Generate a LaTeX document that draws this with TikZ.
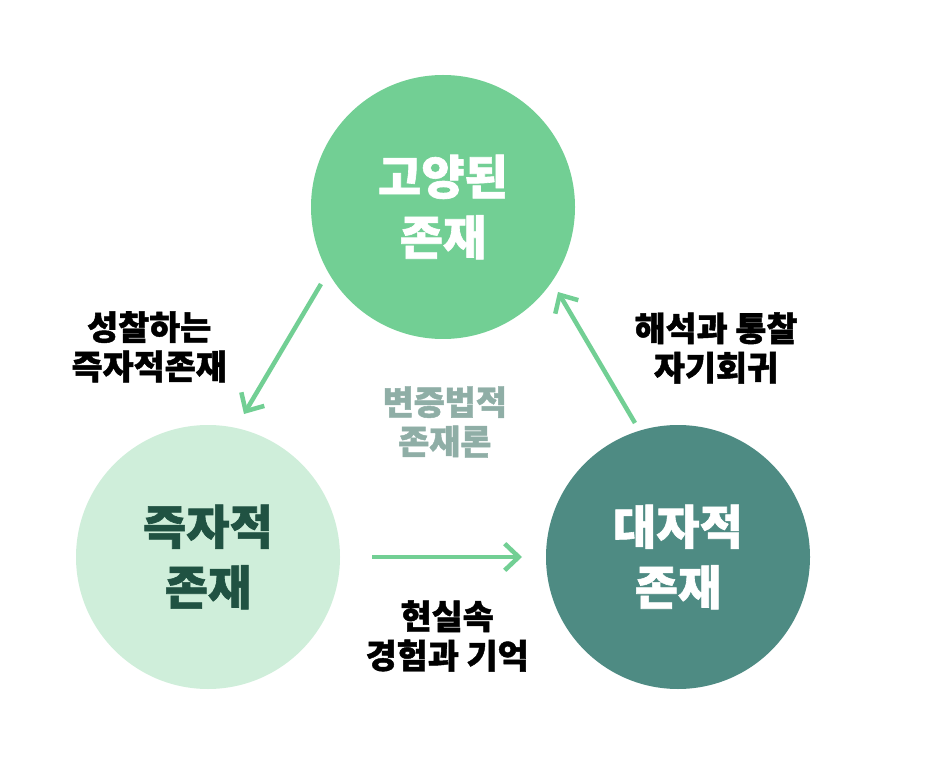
\documentclass[tikz,border=0pt]{standalone}
\usepackage{fontspec}
\newfontfamily\cjk{Noto Sans CJK KR}[BoldFeatures={FakeBold=1.3}]
\usepackage{xcolor}
\usetikzlibrary{arrows.meta}
\definecolor{leafgreen}{RGB}{114,207,148}
\definecolor{palegreen}{RGB}{207,238,218}
\definecolor{deepteal}{RGB}{78,139,131}
\definecolor{darkleaf}{RGB}{32,82,66}
\definecolor{greyteal}{RGB}{143,174,166}

\tikzset{
  stage/.style={circle, minimum size=6.6cm, inner sep=0pt, align=center,
    font=\cjk\bfseries\fontsize{33.5}{43}\selectfont},
  caption/.style={align=center, font=\cjk\bfseries\fontsize{24}{28}\selectfont},
  flow/.style={line width=3.2pt, leafgreen,
    -{Straight Barb[length=10pt, width=19pt, line width=3.2pt]}},
}

\begin{document}
\begin{tikzpicture}
        \useasboundingbox (0,0) rectangle (23.5,-19.35);
        % the three stages
        \node[stage, fill=leafgreen, text=white] (raised) at (11.075,-5.175) {고양된\\존재};
        \node[stage, fill=palegreen, text=darkleaf] (initself) at (5.2,-13.925) {즉자적\\존재};
        \node[stage, fill=deepteal, text=white] (forself) at (16.95,-13.925) {대자적\\존재};
        % arrow ends
        \coordinate (a1) at (8.025,-7.1);
        \coordinate (a2) at (6.1,-10.35);
        \coordinate (b1) at (9.3,-13.925);
        \coordinate (b2) at (13.05,-13.925);
        \coordinate (c1) at (15.875,-10.575);
        \coordinate (c2) at (13.95,-7.3);
        \draw[flow] (a1) -- (a2);
        \draw[flow] (b1) -- (b2);
        \draw[flow] (c1) -- (c2);
        % labels
        \node[caption] (reflect) at (3.73,-8.67) {성찰하는\\즉자적존재};
        \node[caption] (interpret) at (17.9,-8.7) {해석과 통찰\\자기회귀};
        \node[caption] (reality) at (11.18,-15.9) {현실속\\경험과 기억};
        \node[caption, text=greyteal] (dialectic) at (11.12,-10.55) {변증법적\\존재론};
    \end{tikzpicture}
\end{document}
